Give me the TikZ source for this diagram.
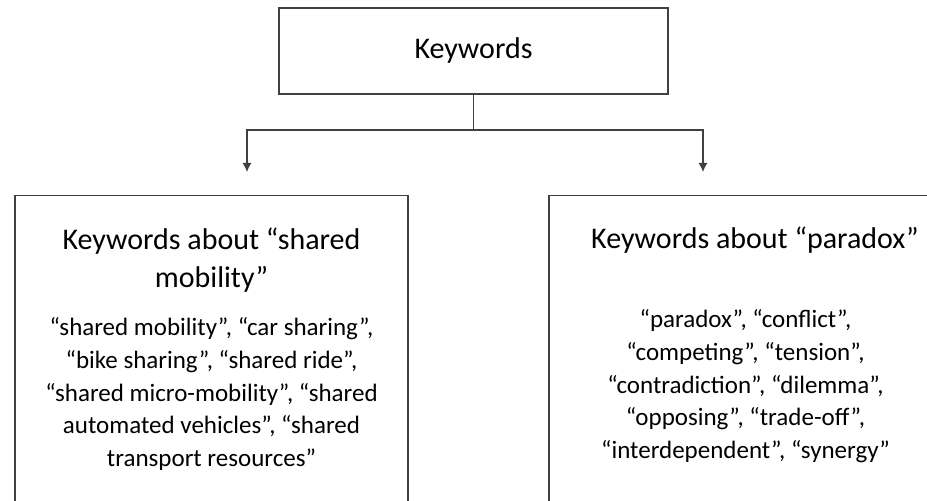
\documentclass[tikz,border=0pt]{standalone}
\usepackage{fontspec}
\setmainfont{Carlito}
\usetikzlibrary{positioning,arrows.meta}

\begin{document}
\begin{tikzpicture}[x=1pt, y=1pt, node distance=10pt,
  box/.style={draw=black!75, line width=1.3pt, inner sep=0pt},
  head/.style={align=center, font=\fontsize{30}{38}\selectfont, inner sep=0pt},
  body/.style={align=center, font=\fontsize{25}{32.7}\selectfont, inner sep=0pt},
  a/.style={draw=black!75, line width=1.3pt, -{Latex[length=9pt,width=9pt]}}]
\clip (0,0) rectangle (927,501);
\node[box, minimum width=389pt, minimum height=86pt, font=\fontsize{30}{38}\selectfont] (kw) at (473.5,450) {Keywords};
\node[box, anchor=north, minimum width=393pt, minimum height=340pt] (shared) at (211.5,306) {};
\node[box, anchor=north, minimum width=393pt, minimum height=340pt] (paradox) at (745.5,306) {};
\coordinate (lturn) at (247,371); \coordinate (lend) at (247,329);
\coordinate (rturn) at (703,371); \coordinate (rend) at (703,329);
\draw[a] (kw.south) |- (lturn) -- (lend);
\draw[a] (kw.south) |- (rturn) -- (rend);
% left box
\node[head, below=33pt of shared.north] (sharedhead) {Keywords about “shared\\mobility”};
\node[body, below=122.5pt of shared.north] (sharedlist) {“shared mobility”, “car sharing”,\\“bike sharing”, “shared ride”,\\“shared micro-mobility”, “shared\\automated vehicles”, “shared\\transport resources”};
% right box
\node[head, below=32pt of paradox.north, xshift=9.5pt] (paradoxhead) {Keywords about “paradox”};
\node[body, below=114.5pt of paradox.north] (paradoxlist) {“paradox”, “conflict”,\\“competing”, “tension”,\\“contradiction”, “dilemma”,\\“opposing”, “trade-off”,\\“interdependent”, “synergy”};
\end{tikzpicture}
\end{document}
